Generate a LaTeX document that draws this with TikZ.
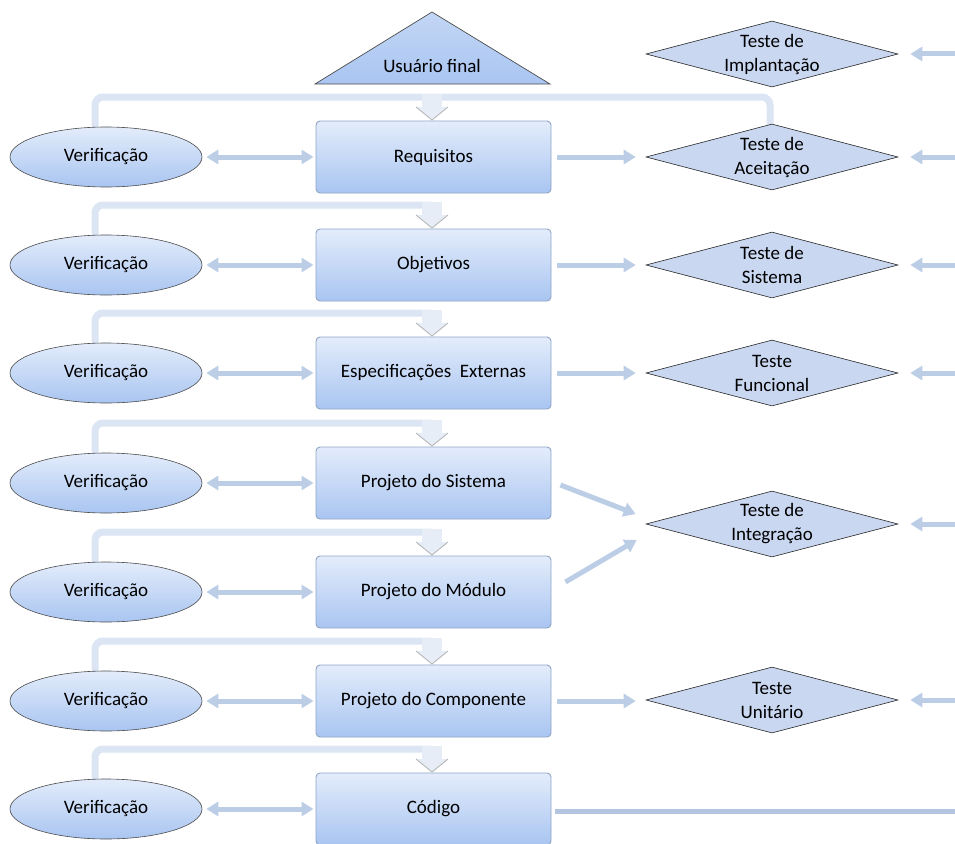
\documentclass[tikz,border=0pt]{standalone}
\usepackage{fontspec}
\setmainfont{Carlito}
\usetikzlibrary{shapes.geometric,arrows.meta}
\definecolor{linkblue}{HTML}{BCCDE6}
\definecolor{loopblue}{HTML}{DCE5F3}
\definecolor{boxtop}{HTML}{E3ECFB}
\definecolor{boxbot}{HTML}{A9C5F1}
\definecolor{boxedge}{HTML}{8FA4C4}
\definecolor{diafill}{HTML}{C9D7F1}
\definecolor{codeline}{HTML}{B4C5E2}
\tikzset{
  txt/.style={font=\fontsize{19}{23}\selectfont},
  phase/.style={txt, draw=boxedge, line width=0.9pt, rounded corners=4pt,
    top color=boxtop, bottom color=boxbot,
    minimum width=235pt, minimum height=72pt},
  verif/.style={txt, ellipse, draw=black!70, line width=0.6pt,
    top color=boxtop, bottom color=boxbot,
    minimum width=192pt, minimum height=60pt, inner sep=0pt},
  testbox/.style={diamond, draw=black!85, line width=0.6pt, fill=diafill,
    aspect=3.8, minimum width=252pt, minimum height=66pt, inner sep=0pt,
    align=center, font=\fontsize{19}{24}\selectfont},
  both/.style={line width=5pt, draw=linkblue,
    {Triangle[width=14pt,length=12pt]}-{Triangle[width=14pt,length=12pt]}},
  feed/.style={line width=5pt, draw=linkblue, -{Triangle[width=14pt,length=12pt]}},
  loopline/.style={line width=7pt, draw=loopblue, rounded corners=8pt},
}
\begin{document}
\begin{tikzpicture}[x=1pt,y=-1pt]
\useasboundingbox (0,0) rectangle (955,843);

% end user
\draw[draw=black!70, line width=0.7pt, top color=boxbot!70!white, bottom color=boxbot]
  (432,12) -- (550,84) -- (315,84) -- cycle;
\node[txt] (user) at (432,66) {Usuário final};

% feedback lines from each verification back to the next phase
\foreach \yt/\ye in {121/128,229/236,337/344,447/454,556/563,665/672,773/780}{
  \draw[loopline] (95,\ye) -- (95,\yt-24) -- (432,\yt-24);
}
\draw[loopline] (432,97) -- (770,97) -- (770,126);
\foreach \yt in {121,229,337,447,556,665,773}{
  \fill[loopblue!70!white] (422,\yt-27) rectangle (442,\yt-14);
  \filldraw[fill=loopblue!70!white, draw=black!30, line width=0.8pt]
    (416,\yt-14) -- (432,\yt-1) -- (448,\yt-14);
}

% phases
\node[phase] (req) at (433.5,157) {Requisitos};
\node[phase] (obj) at (433.5,265) {Objetivos};
\node[phase] (esp) at (433.5,373) {Especificações\ \ Externas};
\node[phase] (sis) at (433.5,483) {Projeto do Sistema};
\node[phase] (mod) at (433.5,592) {Projeto do Módulo};
\node[phase] (comp) at (433.5,701) {Projeto do Componente};
\node[phase] (cod) at (433.5,809) {Código};

% verifications
\node[verif] (v1) at (106,157) {Verificação};
\node[verif] (v2) at (106,265) {Verificação};
\node[verif] (v3) at (106,373) {Verificação};
\node[verif] (v4) at (106,483) {Verificação};
\node[verif] (v5) at (106,592) {Verificação};
\node[verif] (v6) at (106,701) {Verificação};
\node[verif] (v7) at (106,809) {Verificação};

% tests
\node[testbox] (timp) at (772,54) {Teste de\\Implantação};
\node[testbox] (tace) at (772,157) {Teste de\\Aceitação};
\node[testbox] (tsis) at (772,265) {Teste de\\Sistema};
\node[testbox] (tfun) at (772,373) {Teste\\Funcional};
\node[testbox] (tint) at (772,524) {Teste de\\Integração};
\node[testbox] (tuni) at (772,700) {Teste\\Unitário};

% verification <-> phase
\foreach \v/\p in {v1/req,v2/obj,v3/esp,v4/sis,v5/mod,v6/comp,v7/cod}{
  \draw[both] ([xshift=4pt]\v.east) -- ([xshift=-2pt]\v.east -| \p.west);
}

% phase -> test
\foreach \p/\t in {req/tace,obj/tsis,esp/tfun,comp/tuni}{
  \draw[feed] ([xshift=6pt]\p.east) -- ([xshift=-10pt]\p.east -| \t.west);
}
\draw[feed] ([xshift=9pt,yshift=-2pt]sis.east) -- ([xshift=-10pt,yshift=10pt]tint.west);
\draw[feed] ([xshift=14pt,yshift=10pt]mod.east) -- ([xshift=-9pt,yshift=-16pt]tint.west);

% incoming results from the right
\coordinate (r1) at (955,54);
\coordinate (r2) at (955,157);
\coordinate (r3) at (955,265);
\coordinate (r4) at (955,373);
\coordinate (r5) at (955,524);
\coordinate (r6) at (955,700);
\foreach \r/\t in {r1/timp,r2/tace,r3/tsis,r4/tfun,r5/tint,r6/tuni}{
  \draw[feed] (\r) -- ([xshift=12pt]\t.east);
}

% code output line
\coordinate (cend) at (955,811);
\draw[line width=5pt, draw=codeline] ([xshift=4pt]cod.east |- cend) -- (cend);
\end{tikzpicture}
\end{document}
